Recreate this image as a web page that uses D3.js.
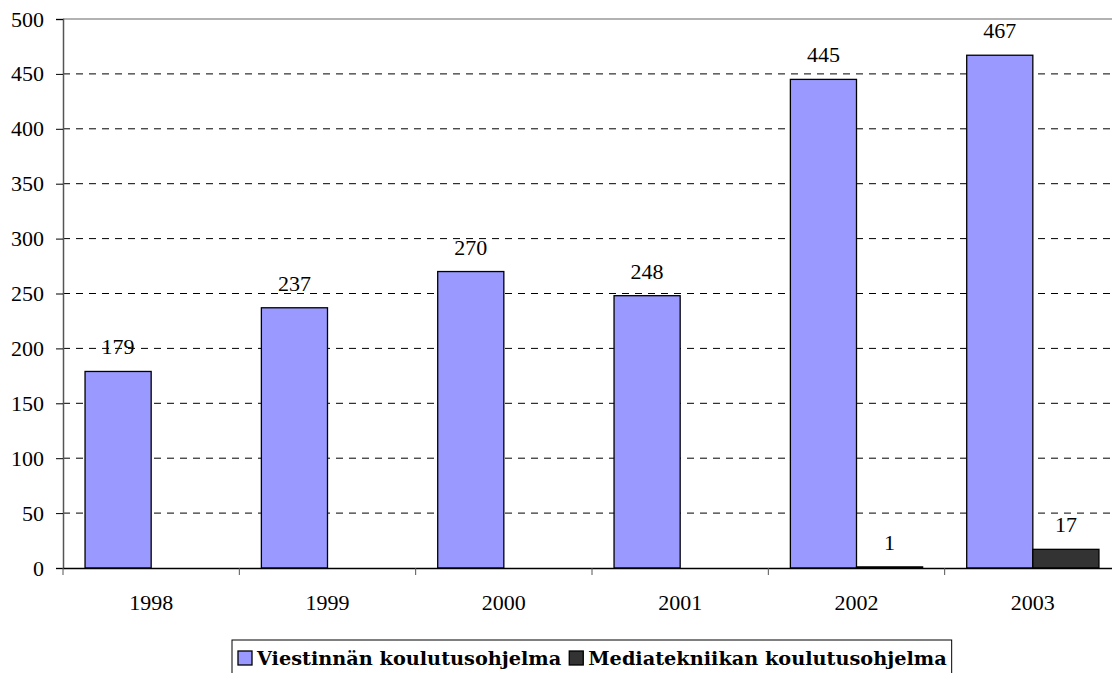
<meta charset="utf-8">
<title>Koulutusohjelmat</title>
<style>
  body { margin: 0; background: #fff; }
  text { font-family: "Liberation Serif", "DejaVu Serif", serif; fill: #000; }
</style>
<body>
<script src="https://cdn.jsdelivr.net/npm/d3@7"></script>
<script>
// years and the two series
var years = ['1998', '1999', '2000', '2001', '2002', '2003'];
var seriesNames = ['Viestinnän koulutusohjelma', 'Mediatekniikan koulutusohjelma'];
var viestinta = [179, 237, 270, 248, 445, 467];
var mediatekniikka = [null, null, null, null, 1, 17];
var yTicks = [0, 50, 100, 150, 200, 250, 300, 350, 400, 450, 500];

var colors = ['#9999ff', '#333333'];

var W = 1112, H = 673;
var mLeft = 63, mTop = 19, mBottom = 568, mRight = 1121;

var svg = d3.select('body').append('svg')
            .attr('width', W)
            .attr('height', H);

var x = d3.scaleBand()
  .domain(years)
  .range([mLeft, mRight]);

var x1 = d3.scaleBand()
  .domain([0, 1])
  .range([0, x.bandwidth()])
  .paddingOuter(1/3);

var y = d3.scaleLinear()
  .domain([0, 500])
  .range([mBottom, mTop]);

// grid lines
yTicks.forEach(function(t){
  if (t == 0) return;
  svg.append('line')
     .attr('x1', mLeft).attr('x2', mRight)
     .attr('y1', y(t)).attr('y2', y(t))
     .style('stroke', t == 500 ? '#999' : '#000')
     .style('stroke-width', t == 500 ? 1.5 : 1)
     .style('stroke-dasharray', t == 500 ? null : '7,6');
});

// bars
var series = [viestinta, mediatekniikka];
series.forEach(function(vals, s){
  vals.forEach(function(v, i){
    if (v == null) return;
    var bx = x(years[i]) + x1(s);
    svg.append('rect')
       .attr('x', bx)
       .attr('y', y(v))
       .attr('width', x1.bandwidth())
       .attr('height', y(0) - y(v))
       .style('fill', colors[s])
       .style('stroke', '#000')
       .style('stroke-width', 1.3);
    svg.append('text')
       .attr('x', bx + x1.bandwidth() / 2)
       .attr('y', y(v) - 17)
       .style('font-size', '22px')
       .style('text-anchor', 'middle')
       .text(v);
  });
});

// y axis
var yAxis = d3.axisLeft(y).tickValues(yTicks).tickSize(7).tickPadding(12);
var gy = svg.append('g')
  .attr('transform', 'translate(' + mLeft + ',0)')
  .call(yAxis);
gy.select('.domain').style('stroke', '#555').style('stroke-width', 1.5);
gy.selectAll('.tick line').style('stroke', '#000');
gy.selectAll('.tick text')
  .style('font-size', '22px')
  .style('font-family', '"Liberation Serif", serif')
  .style('fill', '#000');

// x axis
var xAxis = d3.axisBottom(x).tickSize(0).tickPadding(26);
var gx = svg.append('g')
  .attr('transform', 'translate(0,' + mBottom + ')')
  .call(xAxis);
gx.select('.domain').style('stroke', '#000').style('stroke-width', 1.3);
gx.selectAll('.tick text')
  .style('font-size', '22px')
  .style('font-family', '"Liberation Serif", serif')
  .style('fill', '#000');
// category separators
years.forEach(function(yr, i){
  svg.append('line')
     .attr('x1', x(yr)).attr('x2', x(yr))
     .attr('y1', mBottom).attr('y2', mBottom + 7)
     .style('stroke', '#555');
});

// legend
var legend = svg.append('g');
var lx = 232, ly = 640;
var box = legend.append('rect')
  .attr('x', lx).attr('y', ly)
  .attr('height', 40)
  .style('fill', '#fff')
  .style('stroke', '#000')
  .style('stroke-width', 1);
var cx = lx + 6;
seriesNames.forEach(function(name, s){
  legend.append('rect')
    .attr('x', cx).attr('y', 651)
    .attr('width', 14).attr('height', 14)
    .style('fill', colors[s])
    .style('stroke', '#000')
    .style('stroke-width', 1.3);
  var t = legend.append('text')
    .attr('x', cx + 19).attr('y', 665)
    .style('font-size', '19.3px')
    .style('font-family', '"DejaVu Serif", serif')
    .style('font-weight', 'bold')
    .text(name);
  cx = cx + 19 + t.node().getComputedTextLength() + 8;
});
box.attr('width', cx - lx - 3);
</script>
</body>
